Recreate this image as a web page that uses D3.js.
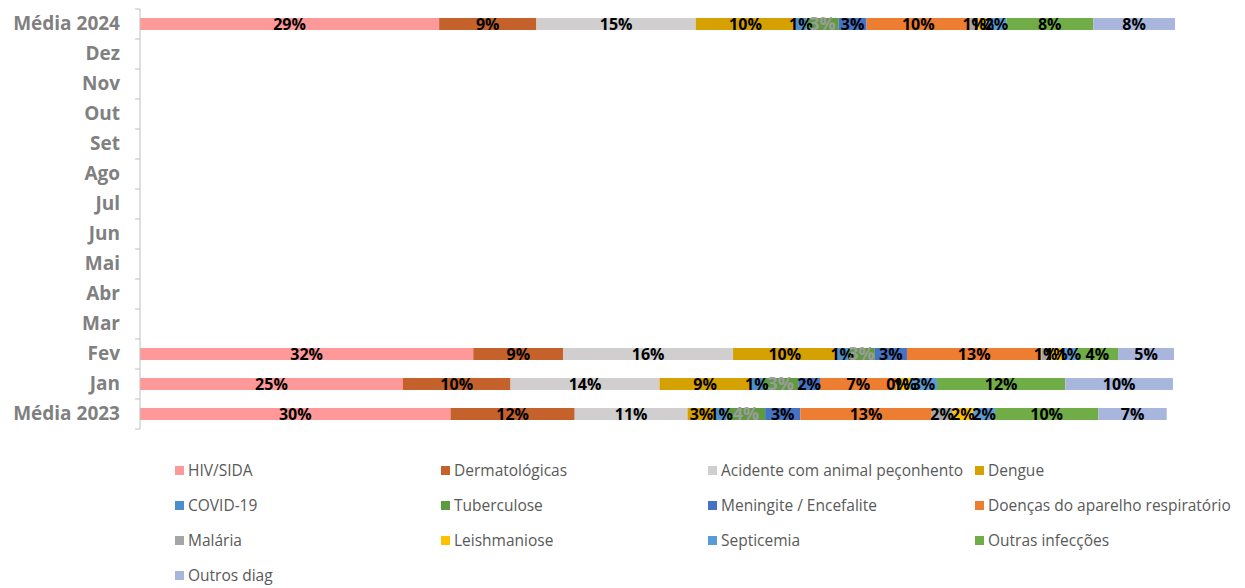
<!DOCTYPE html>
<html><head><meta charset="utf-8">
<script src="https://cdn.jsdelivr.net/npm/d3@7"></script>
<style>body{margin:0;background:#fff}svg{display:block}</style>
</head><body>
<svg id="c" width="1245" height="588"></svg>
<script>
const categories = ["Média 2024","Dez","Nov","Out","Set","Ago","Jul","Jun","Mai","Abr","Mar","Fev","Jan","Média 2023"];
const barCategories = ["Média 2024","Fev","Jan","Média 2023"];
const seriesNames = ["HIV/SIDA","Dermatológicas","Acidente com animal peçonhento","Dengue","COVID-19","Tuberculose","Meningite / Encefalite","Doenças do aparelho respiratório","Malária","Leishmaniose","Septicemia","Outras infecções","Outros diag"];
const seriesColors = ["#FF9999","#C5622B","#D0CECE","#D5A100","#4E8FCB","#5E9A40","#4472C4","#ED7D31","#A5A5A5","#FFC000","#5B9BD5","#70AD47","#A8B6DD"];
// values (%) per bar category, in barCategories order
const hivSida        = [28.9, 32.2, 25.4, 30.0];
const dermatologicas = [9.4, 8.7, 10.4, 12.0];
const acidente       = [15.4, 16.4, 14.4, 10.9];
const dengue         = [9.6, 10.0, 8.8, 2.7];
const covid19        = [1.1, 1.1, 1.2, 1.1];
const tuberculose    = [3.1, 2.6, 3.4, 3.7];
const meningite      = [2.7, 3.1, 2.1, 3.4];
const respiratorio   = [10.0, 13.0, 7.4, 12.7];
const malaria        = [0.8, 0.8, 0.3, 2.0];
const leishmaniose   = [0.8, 1.2, 1.0, 2.0];
const septicemia     = [1.9, 1.4, 2.6, 2.1];
const outrasInfec    = [8.4, 4.0, 12.4, 10.0];
const outrosDiag     = [7.9, 5.4, 10.4, 6.6];
const seriesValues = [hivSida, dermatologicas, acidente, dengue, covid19, tuberculose, meningite, respiratorio, malaria, leishmaniose, septicemia, outrasInfec, outrosDiag];
const labelColors = seriesNames.map(n => n === "Tuberculose" ? "#9C9C9C" : "#000");
const labelSizes = seriesNames.map(n => n === "Tuberculose" ? 18 : 16);

const svg = d3.select("#c");
const x = d3.scaleLinear().domain([0, 100]).range([140, 1175]);
const y = d3.scaleBand().domain(categories).range([9, 429]).paddingInner(0.6).paddingOuter(0.3);

const rows = barCategories.map((c, i) => {
  const r = {cat: c};
  seriesNames.forEach((s, j) => r[s] = seriesValues[j][i]);
  return r;
});
const stacked = d3.stack().keys(seriesNames)(rows);

const gBars = svg.append("g");
stacked.forEach((layer, j) => {
  gBars.selectAll(null).data(layer).join("rect")
    .attr("x", d => x(d[0]))
    .attr("width", d => x(d[1]) - x(d[0]))
    .attr("y", d => y(d.data.cat))
    .attr("height", y.bandwidth())
    .attr("fill", seriesColors[j]);
});
const gLab = svg.append("g");
stacked.forEach((layer, j) => {
  gLab.selectAll(null).data(layer).join("text")
    .attr("x", d => (x(d[0]) + x(d[1])) / 2)
    .attr("y", d => y(d.data.cat) + y.bandwidth()/2)
    .attr("dy", "0.36em")
    .attr("text-anchor", "middle")
    .attr("font-family", "'Open Sans', sans-serif")
    .attr("font-weight", 700)
    .attr("font-size", labelSizes[j])
    .attr("fill", labelColors[j])
    .text(d => Math.round(d[1] - d[0]) + "%");
});

// y axis
const axisG = svg.append("g").attr("transform", "translate(140,0)")
  .call(d3.axisLeft(y).tickSize(0).tickPadding(20));
axisG.select(".domain").attr("stroke", "#BFBFBF").attr("d", "M0,9V429");
axisG.selectAll("text")
  .attr("font-family", "'Open Sans', sans-serif")
  .attr("font-weight", 700)
  .attr("font-size", 19)
  .attr("fill", "#808080");
const bounds = d3.range(categories.length + 1).map(i => 9 + i * y.step());
svg.append("g").selectAll("line").data(bounds).join("line")
  .attr("x1", 135).attr("x2", 140)
  .attr("y1", d => d).attr("y2", d => d)
  .attr("stroke", "#BFBFBF");

// legend
const legCols = [175, 441, 708, 975];
const legRows = [471, 506, 541, 576];
const leg = svg.append("g");
seriesNames.forEach((s, i) => {
  const cx = legCols[i % 4], cy = legRows[Math.floor(i / 4)];
  leg.append("rect").attr("x", cx).attr("y", cy - 5).attr("width", 9).attr("height", 9).attr("fill", seriesColors[i]);
  leg.append("text").attr("x", cx + 13).attr("y", cy).attr("dy", "0.35em")
    .attr("font-family", "'Open Sans', sans-serif").attr("font-size", 15.5).attr("fill", "#595959")
    .text(s);
});
</script>
</body></html>
